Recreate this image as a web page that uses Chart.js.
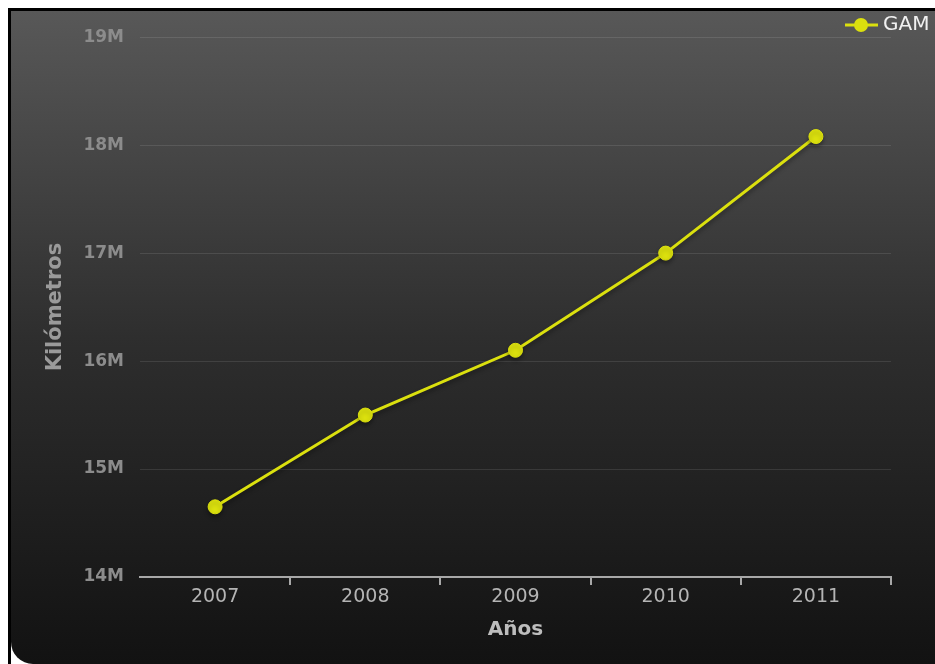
<!DOCTYPE html>
<html>
<head>
<meta charset="utf-8">
<script src="https://cdn.jsdelivr.net/npm/chart.js@4.4.1/dist/chart.umd.min.js"></script>
<style>
  html, body { margin: 0; padding: 0; background: #fff; width: 935px; height: 664px; overflow: hidden; }
  #frame {
    position: absolute; left: 8px; top: 8px; width: 927px; height: 656px;
    border-left: 3px solid #000; border-top: 3px solid #000; background: #fff;
  }
  #panel {
    position: absolute; left: 0; top: 0; width: 924px; height: 653px;
    background: linear-gradient(to bottom, #585858 0%, #2e2e2e 50%, #121212 100%);
    border-bottom-left-radius: 22px;
  }
  canvas { display: block; }
</style>
</head>
<body>
<div id="frame"><div id="panel"><canvas id="chart" width="924" height="653"></canvas></div></div>
<script>
// Kilómetros recorridos por año
const years = ['2007', '2008', '2009', '2010', '2011'];
const seriesName = 'GAM';
const kilometres = [14650000, 15500000, 16100000, 17000000, 18080000];
const yMin = 14000000;
const yMax = 19000000;
const yStep = 1000000;

const lineColor = '#dbe00e';
const font = 'DejaVu Sans';

// soft shadow under the series line
const shadowPlugin = {
  id: 'lineShadow',
  beforeDatasetsDraw(chart) {
    const ctx = chart.ctx;
    ctx.save();
    ctx.shadowColor = 'rgba(0,0,0,0.35)';
    ctx.shadowBlur = 4;
    ctx.shadowOffsetY = 3;
  },
  afterDatasetsDraw(chart) { chart.ctx.restore(); }
};

// legend entry: a short line with a round marker, then the series name
const lineLegend = {
  id: 'lineLegend',
  afterDraw(chart) {
    const ctx = chart.ctx;
    const ds = chart.data.datasets[0];
    const y = 14;
    ctx.save();
    ctx.strokeStyle = ds.borderColor;
    ctx.lineWidth = 3;
    ctx.beginPath();
    ctx.moveTo(834, y);
    ctx.lineTo(867, y);
    ctx.stroke();
    ctx.fillStyle = ds.pointBackgroundColor;
    ctx.beginPath();
    ctx.arc(850, y, 7, 0, Math.PI * 2);
    ctx.fill();
    ctx.fillStyle = '#f0f0f0';
    ctx.font = '20px "' + font + '"';
    ctx.textBaseline = 'middle';
    ctx.textAlign = 'left';
    ctx.fillText(ds.label, 872, y);
    ctx.restore();
  }
};

new Chart(document.getElementById('chart'), {
  type: 'line',
  data: {
    labels: years,
    datasets: [{
      label: seriesName,
      data: kilometres,
      borderColor: lineColor,
      backgroundColor: lineColor,
      pointBackgroundColor: lineColor,
      pointBorderColor: lineColor,
      borderWidth: 3,
      pointRadius: 7,
      pointBorderWidth: 1,
      tension: 0,
      fill: false
    }]
  },
  options: {
    responsive: false,
    animation: false,
    layout: { padding: { top: 26, right: 44, left: 0, bottom: 0 } },
    plugins: {
      legend: { display: false },
      tooltip: { enabled: false }
    },
    scales: {
      x: {
        offset: true,
        grid: {
          offset: true,
          drawOnChartArea: false,
          drawTicks: true,
          tickLength: 8,
          lineWidth: 2,
          color: (c) => c.index === 0 ? 'rgba(0,0,0,0)' : '#a8a8a8'
        },
        border: { display: true, color: '#a8a8a8', width: 2 },
        ticks: {
          color: '#b4b4b4',
          padding: 1,
          font: { family: font, size: 19 }
        },
        title: {
          display: true,
          text: 'Años',
          color: '#bdbdbd',
          font: { family: font, size: 20, weight: 'bold' },
          padding: { top: 0, bottom: 22 }
        },
        afterFit(scale) { scale.height = 87; }
      },
      y: {
        min: yMin,
        max: yMax,
        ticks: {
          stepSize: yStep,
          color: '#8c8c8c',
          padding: 16,
          font: { family: font, size: 17, weight: 'bold' },
          callback: (v) => (v / 1000000) + 'M'
        },
        grid: {
          drawTicks: false,
          color: 'rgba(255,255,255,0.1)',
          lineWidth: 1
        },
        border: { display: false },
        title: {
          display: true,
          text: 'Kilómetros',
          color: '#9a9a9a',
          font: { family: font, size: 21, weight: 'bold' },
          padding: { top: 32, bottom: 0 }
        },
        afterFit(scale) { scale.width = 129; }
      }
    }
  },
  plugins: [shadowPlugin, lineLegend]
});
</script>
</body>
</html>
